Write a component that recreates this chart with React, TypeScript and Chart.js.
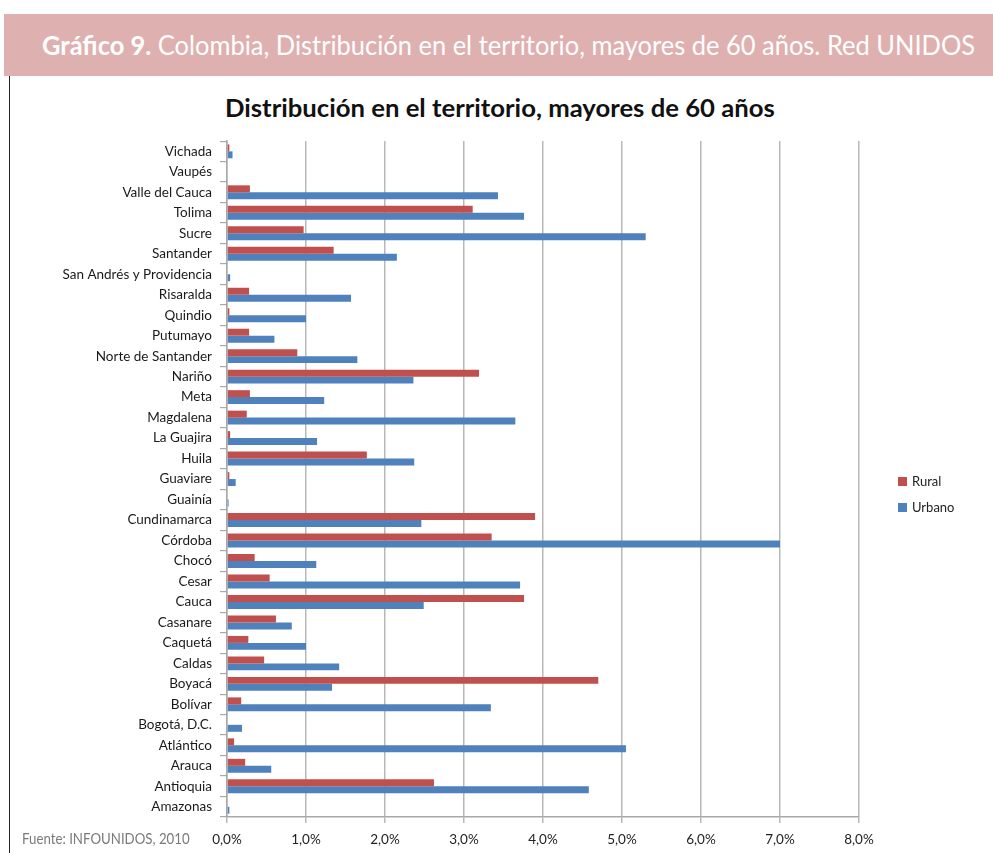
import React, { useEffect, useLayoutEffect, useRef, useState } from "react";
import { Chart, registerables } from "chart.js";

Chart.register(...registerables);

const categories = [
  "Vichada", "Vaupés", "Valle del Cauca", "Tolima", "Sucre", "Santander",
  "San Andrés y Providencia", "Risaralda", "Quindio", "Putumayo",
  "Norte de Santander", "Nariño", "Meta", "Magdalena", "La Guajira", "Huila",
  "Guaviare", "Guainía", "Cundinamarca", "Córdoba", "Chocó", "Cesar", "Cauca",
  "Casanare", "Caquetá", "Caldas", "Boyacá", "Bolívar", "Bogotá, D.C.",
  "Atlántico", "Arauca", "Antioquia", "Amazonas",
];

const rural = [
  0.03, 0, 0.29, 3.11, 0.97, 1.35,
  0, 0.28, 0.03, 0.28,
  0.89, 3.19, 0.29, 0.25, 0.04, 1.77,
  0.03, 0, 3.9, 3.35, 0.35, 0.54, 3.76,
  0.62, 0.27, 0.47, 4.7, 0.18, 0,
  0.09, 0.23, 2.62, 0,
];

const urbano = [
  0.07, 0, 3.43, 3.76, 5.3, 2.15,
  0.04, 1.57, 1.0, 0.6,
  1.65, 2.36, 1.23, 3.65, 1.14, 2.37,
  0.11, 0.02, 2.46, 7.0, 1.13, 3.71, 2.49,
  0.82, 1.0, 1.42, 1.33, 3.34, 0.19,
  5.05, 0.56, 4.58, 0.03,
];

const seriesNames = ["Rural", "Urbano"];
const seriesColors = ["#c0504d", "#4f81bd"];
const xMin = 0;
const xMax = 8;
const xStep = 1;

const headerBold = "Gráfico 9.";
const headerRest = " Colombia, Distribución en el territorio, mayores de 60 años. Red UNIDOS";
const chartTitle = "Distribución en el territorio, mayores de 60 años";
const sourceText = "Fuente: INFOUNIDOS, 2010";

function FitText(props: { width: number; style: React.CSSProperties; children: React.ReactNode }) {
  const ref = useRef<HTMLSpanElement>(null);
  const [scale, setScale] = useState(1);
  useLayoutEffect(() => {
    if (ref.current) {
      const w = ref.current.offsetWidth;
      if (w > 0) setScale(props.width / w);
    }
  }, [props.width]);
  return (
    <span
      ref={ref}
      style={{
        ...props.style,
        display: "inline-block",
        whiteSpace: "nowrap",
        transformOrigin: "left center",
        transform: `scaleX(${scale})`,
      }}
    >
      {props.children}
    </span>
  );
}

const CANVAS_TOP = 125;
const CANVAS_H = 853 - CANVAS_TOP;

export default function App() {
  const canvasRef = useRef<HTMLCanvasElement>(null);

  useEffect(() => {
    if (!canvasRef.current) return;
    const chart = new Chart(canvasRef.current, {
      type: "bar",
      data: {
        labels: categories,
        datasets: [
          { label: seriesNames[0], data: rural, backgroundColor: seriesColors[0] },
          { label: seriesNames[1], data: urbano, backgroundColor: seriesColors[1] },
        ],
      },
      options: {
        indexAxis: "y",
        responsive: false,
        animation: false,
        maintainAspectRatio: false,
        layout: { padding: { left: 0, right: 134, top: 15, bottom: 0 } },
        datasets: { bar: { categoryPercentage: 0.68, barPercentage: 1.0 } },
        plugins: {
          legend: { display: false },
          title: { display: false },
          tooltip: { enabled: false },
        },
        scales: {
          x: {
            min: xMin,
            max: xMax,
            afterFit: (s: any) => { s.height = 36; },
            ticks: {
              stepSize: xStep,
              color: "#222",
              padding: 9,
              font: { family: "Lato", size: 13.5 },
              callback: (v: any) => Number(v).toFixed(1).replace(".", ",") + "%",
            },
            grid: { color: "#b8b8b8", lineWidth: 1.5, tickLength: 6 },
            border: { color: "#a8a8a8", width: 1.5 },
          },
          y: {
            afterFit: (s: any) => { s.width = 227; },
            ticks: {
              color: "#1a1a1a",
              padding: 8,
              autoSkip: false,
              font: { family: "Lato", size: 13.5 },
            },
            grid: { drawOnChartArea: false, color: "#a8a8a8", tickLength: 7, lineWidth: 1.2 },
            border: { color: "#a8a8a8", width: 1.5 },
          },
        },
      },
    });
    return () => chart.destroy();
  }, []);

  return (
    <div style={{ position: "absolute", left: 0, top: 0, width: 993, height: 853, background: "#fff", overflow: "hidden" }}>
      <div style={{ position: "absolute", left: 4, top: 14, width: 989, height: 62, background: "#dfb0b0" }} />
      <div style={{ position: "absolute", left: 42, top: 25, height: 40, lineHeight: "40px" }}>
        <FitText width={933} style={{ fontFamily: "Lato", fontSize: 27, color: "#fff" }}>
          <b>{headerBold}</b>{headerRest}
        </FitText>
      </div>
      <div style={{ position: "absolute", left: 9, top: 76, width: 1, height: 777, background: "#222" }} />
      <div style={{ position: "absolute", left: 225, top: 92, height: 32, lineHeight: "32px" }}>
        <FitText width={550} style={{ fontFamily: "Lato", fontSize: 24, fontWeight: 700, color: "#111" }}>
          {chartTitle}
        </FitText>
      </div>
      <canvas
        ref={canvasRef}
        width={993}
        height={CANVAS_H}
        style={{ position: "absolute", left: 0, top: CANVAS_TOP, width: 993, height: CANVAS_H }}
      />
      {seriesNames.map((n, i) => (
        <div key={n} style={{ position: "absolute", left: 898, top: 472 + i * 26, height: 18, display: "flex", alignItems: "center" }}>
          <span style={{ display: "inline-block", width: 9, height: 9, background: seriesColors[i], marginRight: 5 }} />
          <span style={{ fontFamily: "Lato", fontSize: 13, color: "#222" }}>{n}</span>
        </div>
      ))}
      <div style={{ position: "absolute", left: 22, top: 828, height: 20, lineHeight: "20px" }}>
        <FitText width={168} style={{ fontFamily: "Lato", fontSize: 15, color: "#7a7a7a" }}>
          {sourceText}
        </FitText>
      </div>
    </div>
  );
}
